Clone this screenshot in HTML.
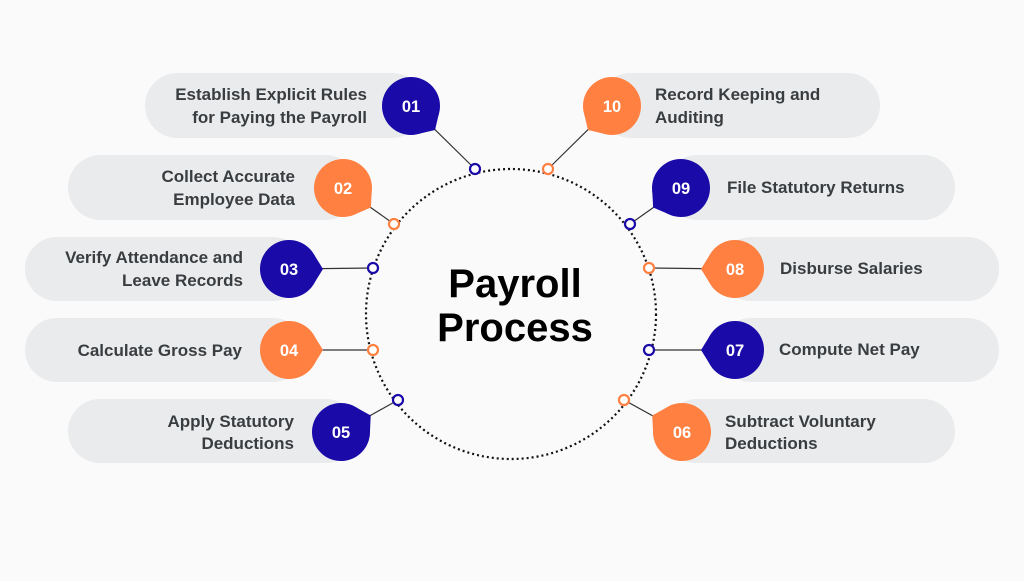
<!DOCTYPE html>
<html><head><meta charset="utf-8"><style>
html,body{margin:0;padding:0;}
body{width:1024px;height:576px;overflow:hidden;background:#fafafa;font-family:"Liberation Sans",sans-serif;}
svg text{font-family:"Liberation Sans",sans-serif;font-weight:bold;}
</style></head><body>
<svg width="1024" height="576" viewBox="0 0 1024 576">
<rect width="1024" height="576" fill="#fafafa"/>
<g fill="#e9ebec">
<rect x="145" y="73" width="280" height="65" rx="32.5"/>
<rect x="68" y="155" width="290" height="65" rx="32.5"/>
<rect x="25" y="237" width="280" height="64" rx="32"/>
<rect x="25" y="318" width="280" height="64" rx="32"/>
<rect x="68" y="399" width="290" height="64" rx="32"/>
<rect x="598" y="73" width="282" height="65" rx="32.5"/>
<rect x="665" y="155" width="290" height="65" rx="32.5"/>
<rect x="719" y="237" width="280" height="64" rx="32"/>
<rect x="719" y="318" width="280" height="64" rx="32"/>
<rect x="665" y="399" width="290" height="64" rx="32"/>
</g>
<circle cx="511" cy="314" r="145" fill="none" stroke="#111" stroke-width="2.2" stroke-dasharray="2 3"/>
<g stroke="#333" stroke-width="1.2">
<line x1="411" y1="106" x2="475" y2="169"/>
<line x1="343" y1="188" x2="394" y2="224"/>
<line x1="289" y1="269" x2="373" y2="268"/>
<line x1="289" y1="350" x2="373" y2="350"/>
<line x1="341" y1="432" x2="398" y2="400"/>
<line x1="612" y1="106" x2="548" y2="169"/>
<line x1="681" y1="188" x2="630" y2="224"/>
<line x1="735" y1="269" x2="649" y2="268"/>
<line x1="735" y1="350" x2="649" y2="350"/>
<line x1="682" y1="432" x2="624" y2="400"/>
</g>
<defs>
<g id="b"><circle r="29"/><path d="M25,-14.5 L34,0 L25,14.5 Z"/></g>
</defs>
<g fill="#1a0aa8">
<use href="#b" transform="translate(411,106) rotate(45)"/>
<use href="#b" transform="translate(289,269) rotate(0)"/>
<use href="#b" transform="translate(341,432) rotate(-29)"/>
<use href="#b" transform="translate(681,188) rotate(145)"/>
<use href="#b" transform="translate(735,350) rotate(180)"/>
</g>
<g fill="#ff8040">
<use href="#b" transform="translate(343,188) rotate(35)"/>
<use href="#b" transform="translate(289,350) rotate(0)"/>
<use href="#b" transform="translate(612,106) rotate(135)"/>
<use href="#b" transform="translate(735,269) rotate(180)"/>
<use href="#b" transform="translate(682,432) rotate(209)"/>
</g>
<g fill="#fff" stroke-width="2.2">
<circle cx="475" cy="169" r="5" stroke="#1a0aa8"/>
<circle cx="394" cy="224" r="5" stroke="#ff8040"/>
<circle cx="373" cy="268" r="5" stroke="#1a0aa8"/>
<circle cx="373" cy="350" r="5" stroke="#ff8040"/>
<circle cx="398" cy="400" r="5" stroke="#1a0aa8"/>
<circle cx="548" cy="169" r="5" stroke="#ff8040"/>
<circle cx="630" cy="224" r="5" stroke="#1a0aa8"/>
<circle cx="649" cy="268" r="5" stroke="#ff8040"/>
<circle cx="649" cy="350" r="5" stroke="#1a0aa8"/>
<circle cx="624" cy="400" r="5" stroke="#ff8040"/>
</g>
<g fill="#fff" font-size="16.5" text-anchor="middle">
<text x="411" y="112">01</text>
<text x="343" y="194">02</text>
<text x="289" y="275">03</text>
<text x="289" y="356">04</text>
<text x="341" y="438">05</text>
<text x="735" y="356">07</text>
<text x="735" y="275">08</text>
<text x="681" y="194">09</text>
<text x="682" y="438">06</text>
<text x="612" y="112" font-weight="normal">10</text>
</g>
<g fill="#3a3d40" font-size="17" text-anchor="end">
<text x="367" y="100">Establish Explicit Rules</text>
<text x="367" y="123">for Paying the Payroll</text>
<text x="295" y="182">Collect Accurate</text>
<text x="295" y="205">Employee Data</text>
<text x="243" y="263">Verify Attendance and</text>
<text x="243" y="286">Leave Records</text>
<text x="242" y="356">Calculate Gross Pay</text>
<text x="294" y="427">Apply Statutory</text>
<text x="294" y="449">Deductions</text>
</g>
<g fill="#3a3d40" font-size="17">
<text x="655" y="100">Record Keeping and</text>
<text x="655" y="123">Auditing</text>
<text x="727" y="193">File Statutory Returns</text>
<text x="780" y="274">Disburse Salaries</text>
<text x="779" y="355">Compute Net Pay</text>
<text x="725" y="427">Subtract Voluntary</text>
<text x="725" y="449">Deductions</text>
</g>
<g fill="#000" font-size="40" text-anchor="middle">
<text x="515" y="297">Payroll</text>
<text x="515" y="341">Process</text>
</g>
</svg>
</body></html>
